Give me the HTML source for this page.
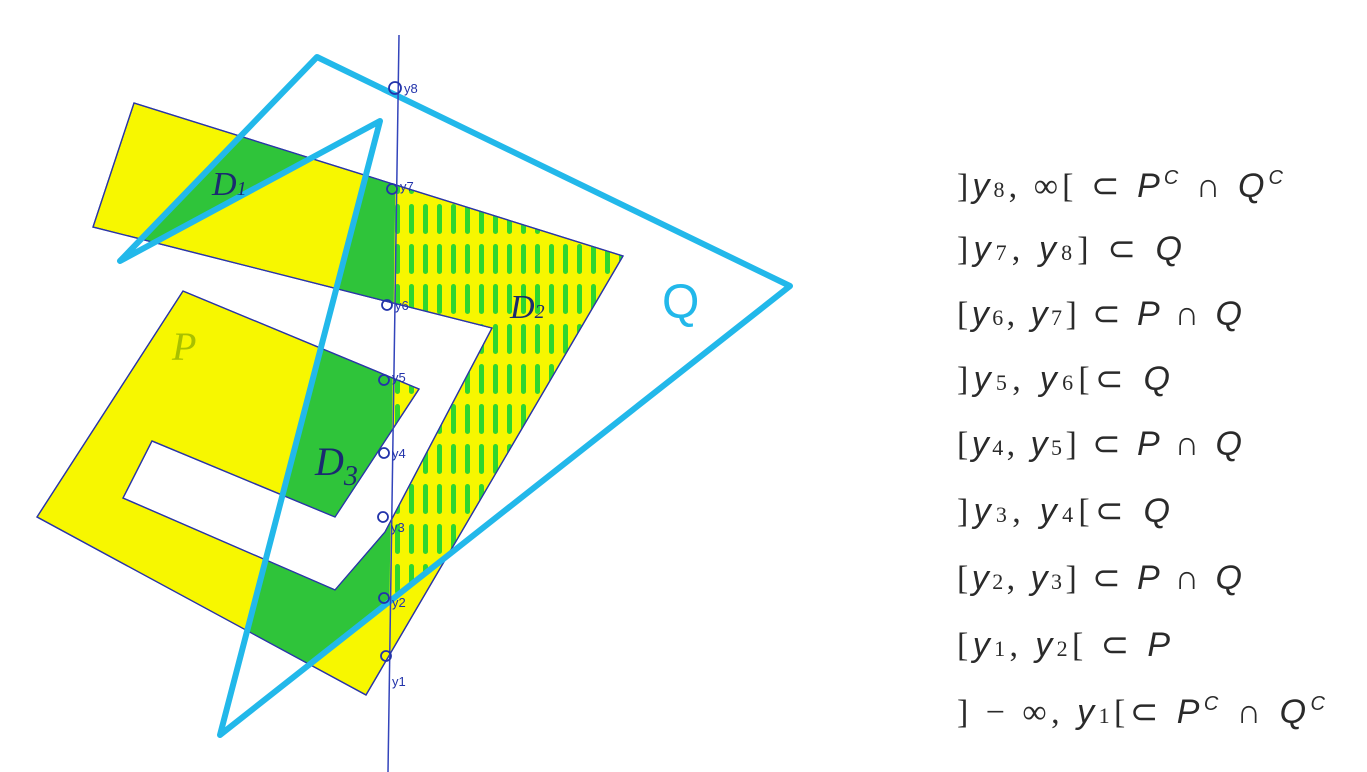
<!DOCTYPE html>
<html><head><meta charset="utf-8"><style>
html,body{margin:0;padding:0;background:#fff;width:1367px;height:772px;overflow:hidden}
svg{display:block}
.m{font-family:"Liberation Sans",sans-serif;font-style:italic;font-size:34px;fill:#2a2a2a}
.s{font-family:"Liberation Serif",serif;font-style:normal}
.hw{font-family:"Liberation Sans",sans-serif;fill:#2233aa;font-size:13px}
</style></head><body>
<svg width="1367" height="772" viewBox="0 0 1367 772">
<defs>
<clipPath id="qclip"><polygon points="317,57 790,286 220,735 380,121 120,261"/></clipPath>
<clipPath id="leftAxis"><polygon points="0,0 398,0 387,772 0,772"/></clipPath>
<clipPath id="rightAxis"><polygon points="398,0 1367,0 1367,772 387,772"/></clipPath>
<clipPath id="pclip"><polygon points="134,103 623,256 366,695 37,517 183,291 419,389 335,517 152,441 123,498 335,590 385,532 492,328 93,227"/></clipPath>
<pattern id="hatch" width="14" height="40" patternUnits="userSpaceOnUse">
<rect x="3" y="4" width="5" height="30" rx="2.5" fill="#2ed62e"/>
</pattern>
</defs>
<polygon points="134,103 623,256 366,695 37,517 183,291 419,389 335,517 152,441 123,498 335,590 385,532 492,328 93,227" fill="#f7f700" stroke="#2a35a8" stroke-width="1.3"/>
<g clip-path="url(#pclip)"><g clip-path="url(#qclip)">
<rect x="0" y="0" width="1367" height="772" fill="#2fc43a" clip-path="url(#leftAxis)"/>
<rect x="0" y="0" width="1367" height="772" fill="url(#hatch)" clip-path="url(#rightAxis)"/>
</g></g>
<polygon points="134,103 623,256 366,695 37,517 183,291 419,389 335,517 152,441 123,498 335,590 385,532 492,328 93,227" fill="none" stroke="#2a35a8" stroke-width="1.3"/>
<polygon points="317,57 790,286 220,735 380,121 120,261" fill="none" stroke="#22b8ea" stroke-width="6" stroke-linejoin="round"/>
<line x1="399" y1="35" x2="388" y2="772" stroke="#3344bb" stroke-width="1.5"/>
<g fill="none" stroke="#2233aa" stroke-width="1.8">
<circle cx="395" cy="88" r="6"/><circle cx="392" cy="189" r="5"/><circle cx="387" cy="305" r="5"/><circle cx="384" cy="380" r="5"/><circle cx="384" cy="453" r="5"/><circle cx="383" cy="517" r="5"/><circle cx="384" cy="598" r="5"/><circle cx="386" cy="656" r="5"/>
</g>
<text class="hw" x="404" y="93">y8</text>
<text class="hw" x="400" y="191">y7</text>
<text class="hw" x="395" y="310">y6</text>
<text class="hw" x="392" y="382">y5</text>
<text class="hw" x="392" y="458">y4</text>
<text class="hw" x="391" y="532">y3</text>
<text class="hw" x="392" y="607">y2</text>
<text class="hw" x="392" y="686">y1</text>
<text x="212" y="195" font-family="Liberation Serif,serif" font-style="italic" font-size="34" fill="#1a2a70">D<tspan font-size="20">1</tspan></text>
<text x="510" y="318" font-family="Liberation Serif,serif" font-style="italic" font-size="34" fill="#1a2a70">D<tspan font-size="20">2</tspan></text>
<text x="315" y="475" font-family="Liberation Serif,serif" font-style="italic" font-size="40" fill="#1a2a70">D<tspan font-size="28" dy="10">3</tspan></text>
<text x="172" y="360" font-family="Liberation Serif,serif" font-style="italic" font-size="40" fill="#a8c000">P</text>
<text x="662" y="318" font-family="Liberation Sans,sans-serif" font-size="48" fill="#22b8ea">Q</text>
<g>
<text class="m" x="957" y="197" textLength="326" lengthAdjust="spacing"><tspan class="s">]</tspan>y<tspan class="s" font-size="22">8</tspan><tspan class="s">, ∞[</tspan> <tspan class="s">⊂</tspan> P<tspan font-size="20" dy="-13">C</tspan><tspan dy="13"> ∩ Q</tspan><tspan font-size="20" dy="-13">C</tspan></text>
<text class="m" x="957" y="260" textLength="225" lengthAdjust="spacing"><tspan class="s">]</tspan>y<tspan class="s" font-size="22">7</tspan><tspan class="s">, </tspan>y<tspan class="s" font-size="22">8</tspan><tspan class="s">]  ⊂</tspan> Q</text>
<text class="m" x="957" y="325" textLength="285" lengthAdjust="spacing"><tspan class="s">[</tspan>y<tspan class="s" font-size="22">6</tspan><tspan class="s">, </tspan>y<tspan class="s" font-size="22">7</tspan><tspan class="s">] ⊂</tspan> P ∩ Q</text>
<text class="m" x="957" y="390" textLength="213" lengthAdjust="spacing"><tspan class="s">]</tspan>y<tspan class="s" font-size="22">5</tspan><tspan class="s">, </tspan>y<tspan class="s" font-size="22">6</tspan><tspan class="s">[⊂</tspan> Q</text>
<text class="m" x="957" y="455" textLength="285" lengthAdjust="spacing"><tspan class="s">[</tspan>y<tspan class="s" font-size="22">4</tspan><tspan class="s">, </tspan>y<tspan class="s" font-size="22">5</tspan><tspan class="s">] ⊂</tspan> P ∩ Q</text>
<text class="m" x="957" y="522" textLength="213" lengthAdjust="spacing"><tspan class="s">]</tspan>y<tspan class="s" font-size="22">3</tspan><tspan class="s">, </tspan>y<tspan class="s" font-size="22">4</tspan><tspan class="s">[⊂</tspan> Q</text>
<text class="m" x="957" y="589" textLength="285" lengthAdjust="spacing"><tspan class="s">[</tspan>y<tspan class="s" font-size="22">2</tspan><tspan class="s">, </tspan>y<tspan class="s" font-size="22">3</tspan><tspan class="s">] ⊂</tspan> P ∩ Q</text>
<text class="m" x="957" y="656" textLength="213" lengthAdjust="spacing"><tspan class="s">[</tspan>y<tspan class="s" font-size="22">1</tspan><tspan class="s">, </tspan>y<tspan class="s" font-size="22">2</tspan><tspan class="s">[ ⊂</tspan> P</text>
<text class="m" x="957" y="723" textLength="368" lengthAdjust="spacing"><tspan class="s">] − ∞, </tspan>y<tspan class="s" font-size="22">1</tspan><tspan class="s">[⊂</tspan> P<tspan font-size="20" dy="-13">C</tspan><tspan dy="13"> ∩ Q</tspan><tspan font-size="20" dy="-13">C</tspan></text>
</g>
</svg>
</body></html>
